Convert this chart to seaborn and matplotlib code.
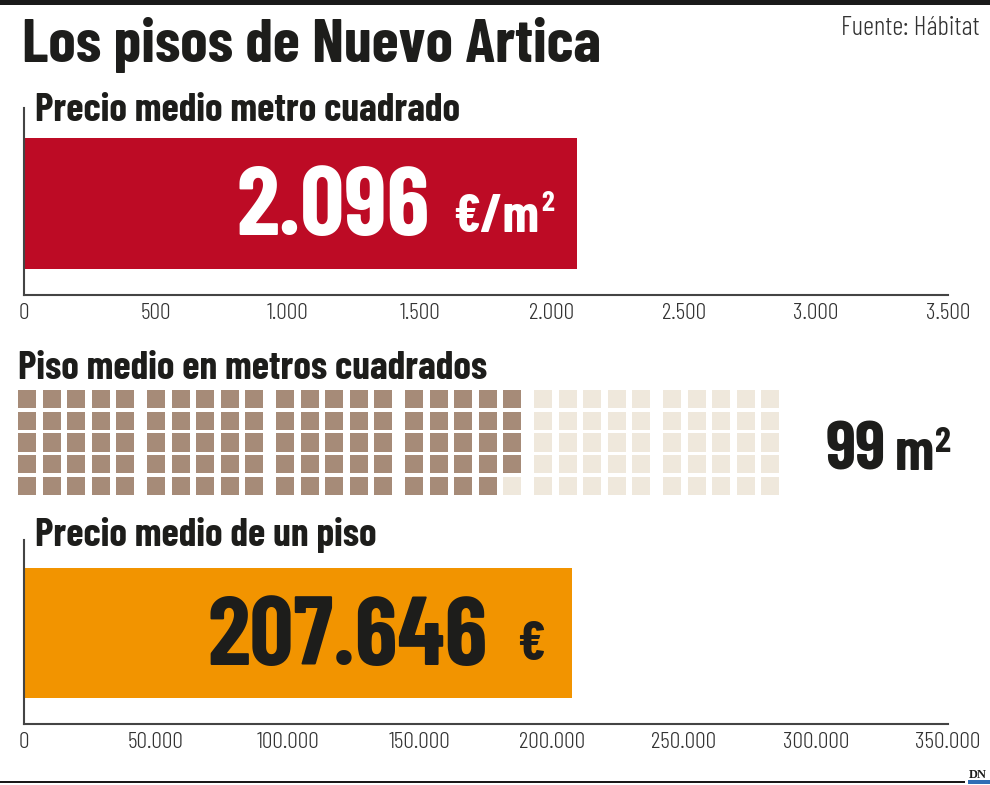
import matplotlib
matplotlib.use("Agg")
import matplotlib.pyplot as plt
from matplotlib.patches import Rectangle
import seaborn as sns
import pandas as pd

# ---------------- data ----------------
titulo = "Los pisos de Nuevo Artica"
fuente = "Fuente: Hábitat"
sub1 = "Precio medio metro cuadrado"
sub2 = "Piso medio en metros cuadrados"
sub3 = "Precio medio de un piso"

precio_m2 = [2096]
ticks1 = [0, 500, 1000, 1500, 2000, 2500, 3000, 3500]
labels1 = ["0", "500", "1.000", "1.500", "2.000", "2.500", "3.000", "3.500"]

superficie = 99
waffle_total = 150

precio_piso = [207646]
ticks3 = [0, 50000, 100000, 150000, 200000, 250000, 300000, 350000]
labels3 = ["0", "50.000", "100.000", "150.000", "200.000", "250.000", "300.000", "350.000"]

# ---------------- style ----------------
sns.set_style("white")
FONT = ["Barlow Condensed", "DejaVu Sans"]
plt.rcParams["font.family"] = FONT

RED = "#BD0B25"
ORANGE = "#F29400"
BROWN = "#A68B78"
LIGHT = "#EFE8DC"
DARK = "#1d1d1b"
AXC = "#444444"

W, H = 990, 785
fig = plt.figure(figsize=(W / 100, H / 100), dpi=100)


def px_axes(x0, y0, x1, y1):
    return fig.add_axes([x0 / W, 1 - y1 / H, (x1 - x0) / W, (y1 - y0) / H])


def style_bar_axes(ax, ticks, labels, xmax):
    ax.set_xlim(0, xmax)
    ax.set_xticks(ticks)
    ax.set_xticklabels(labels, fontweight=300)
    ax.set_yticks([])
    ax.set_xlabel("")
    ax.set_ylabel("")
    sns.despine(ax=ax)
    for s in ("left", "bottom"):
        ax.spines[s].set_color(AXC)
        ax.spines[s].set_linewidth(1.5)
    ax.tick_params(axis="x", direction="in", length=6, width=1.3, color=AXC,
                   labelsize=17, labelcolor="#333333", pad=6)
    ax.patch.set_alpha(0)


# ---------------- chart 1 ----------------
ax1 = px_axes(24, 108, 948, 295)
df1 = pd.DataFrame({"indicador": [sub1], "valor": precio_m2})
sns.barplot(data=df1, x="valor", y="indicador", orient="h", color=RED,
            saturation=1, width=0.7, linewidth=0, ax=ax1)
style_bar_axes(ax1, ticks1, labels1, 3500)
ax1.set_ylim(0.489, -0.510)

# ---------------- chart 3 ----------------
ax3 = px_axes(24, 540, 948, 724)
df3 = pd.DataFrame({"indicador": [sub3], "valor": precio_piso})
sns.barplot(data=df3, x="valor", y="indicador", orient="h", color=ORANGE,
            saturation=1, width=0.7, linewidth=0, ax=ax3)
style_bar_axes(ax3, ticks3, labels3, 350000)
ax3.set_ylim(0.490, -0.501)

# ---------------- waffle ----------------
axw = px_axes(0, 380, W, 500)
axw.set_xlim(0, W)
axw.set_ylim(500, 380)
axw.axis("off")
cells = pd.DataFrame({"i": range(waffle_total)})
cells["grupo"] = cells["i"] // 25
cells["col"] = (cells["i"] % 25) // 5
cells["fila"] = cells["i"] % 5
cells["lleno"] = cells["i"] < superficie
cells["x"] = 18 + cells["grupo"] * 129 + cells["col"] * 24.5
cells["y"] = 390 + cells["fila"] * 21.7
axw.bar(cells["x"], 18.3, width=18.3, bottom=cells["y"], align="edge",
        color=[BROWN if f else LIGHT for f in cells["lleno"]], linewidth=0)

# ---------------- overlay text ----------------
ov = fig.add_axes([0, 0, 1, 1])
ov.set_xlim(0, W)
ov.set_ylim(H, 0)
ov.axis("off")
ov.patch.set_alpha(0)

ov.add_patch(Rectangle((0, 0), W, 5, color="#1a1a1a", lw=0))
ov.add_patch(Rectangle((0, 781), 965, 2.2, color="#1a1a1a", lw=0))
ov.add_patch(Rectangle((968, 780), 22, 4, color="#2f6db5", lw=0))
ov.text(969, 778, "DN", fontsize=9, fontweight="bold", family=["Liberation Serif", "DejaVu Serif"],
        color=DARK, va="baseline", ha="left")

ov.text(22, 62, titulo, fontsize=44.5, fontweight="bold", color=DARK, va="baseline", ha="left")
ov.text(980, 35, fuente, fontsize=19.5, fontweight=300, color="#333333", va="baseline", ha="right")

ov.text(35, 121, sub1, fontsize=28.5, fontweight="bold", color=DARK, va="baseline")
ov.text(18, 379, sub2, fontsize=28.5, fontweight="bold", color=DARK, va="baseline")
ov.text(35, 546, sub3, fontsize=28.5, fontweight="bold", color=DARK, va="baseline")

v1 = f"{precio_m2[0]:,}".replace(",", ".")
ov.text(430, 235, v1, fontsize=70, fontweight="bold", color="white", va="baseline", ha="right")
ov.text(539, 232, "€/m", fontsize=39, fontweight="bold", color="white", va="baseline", ha="right")
ov.text(541, 211, "2", fontsize=21, fontweight="bold", color="white", va="baseline", ha="left")

v3 = f"{precio_piso[0]:,}".replace(",", ".")
ov.text(488, 665, v3, fontsize=70, fontweight="bold", color=DARK, va="baseline", ha="right")
ov.text(517, 660, "€", fontsize=40, fontweight="bold", color=DARK, va="baseline", ha="left")

ov.text(886, 470, f"{superficie}", fontsize=50, fontweight="bold", color=DARK, va="baseline", ha="right")
ov.text(934, 470, "m", fontsize=42, fontweight="bold", color=DARK, va="baseline", ha="right")
ov.text(935, 452, "2", fontsize=26, fontweight="bold", color=DARK, va="baseline", ha="left")

fig.savefig("out.png", dpi=100)
